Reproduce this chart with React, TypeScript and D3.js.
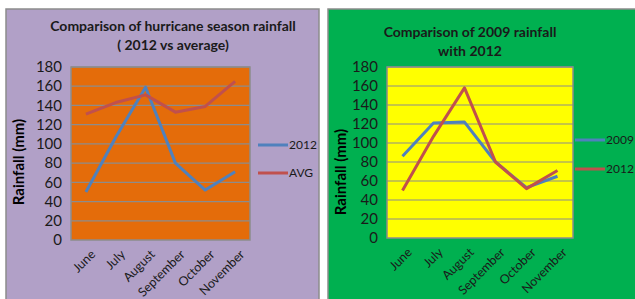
import React, { useEffect, useRef } from 'react';
import * as d3 from 'd3';

const months = ['June', 'July', 'August', 'September', 'October', 'November'];
// left chart: 2012 vs average
const rain2012 = [50, 107, 159, 80, 52, 71];
const rainAvg = [131, 143, 151, 133, 139, 165];
// right chart: 2009 vs 2012
const rain2009 = [86, 121, 122, 80, 53, 65];
const rain2012b = [50, 107, 158, 80, 52, 71];
const yTicks = [0, 20, 40, 60, 80, 100, 120, 140, 160, 180];

const FONT = 'Lato, "Open Sans", sans-serif';

const drawPanel = (svg, cfg) => {
  const g = svg.append('g');

  // panel background
  g.append('rect')
    .attr('x', cfg.px).attr('y', cfg.py)
    .attr('width', cfg.pw).attr('height', cfg.ph)
    .attr('fill', cfg.bg)
    .attr('stroke', '#8c8c8c')
    .attr('stroke-width', 1.5);

  const x = d3.scaleBand().domain(months).range([cfg.x0, cfg.x1]);
  const y = d3.scaleLinear().domain([0, 180]).range([cfg.y1, cfg.y0]);

  // plot area
  g.append('rect')
    .attr('x', cfg.x0).attr('y', cfg.y0)
    .attr('width', cfg.x1 - cfg.x0).attr('height', cfg.y1 - cfg.y0)
    .attr('fill', cfg.plotBg)
    .attr('stroke', '#8c8c8c')
    .attr('stroke-width', 1.5);

  // gridlines
  g.selectAll('.grid')
    .data(yTicks.slice(1))
    .enter()
    .append('line')
    .attr('x1', cfg.x0).attr('x2', cfg.x1)
    .attr('y1', d => y(d)).attr('y2', d => y(d))
    .attr('stroke', '#8c8c8c')
    .attr('stroke-width', 1.2);

  // y tick labels
  g.selectAll('.ytick')
    .data(yTicks)
    .enter()
    .append('text')
    .attr('x', cfg.x0 - 9)
    .attr('y', d => y(d))
    .attr('dy', '0.35em')
    .attr('text-anchor', 'end')
    .style('font-family', FONT)
    .style('font-size', '15px')
    .style('fill', '#1a1a1a')
    .text(d => d);

  // x labels
  g.selectAll('.xtick')
    .data(months)
    .enter()
    .append('text')
    .attr('transform', d => `translate(${x(d) + x.bandwidth() / 2 + 4},${cfg.y1 + 9}) rotate(-45)`)
    .attr('text-anchor', 'end')
    .attr('dy', '0.7em')
    .style('font-family', FONT)
    .style('font-size', '12.5px')
    .style('fill', '#1a1a1a')
    .text(d => d);

  // y axis title
  g.append('text')
    .attr('transform', `translate(${cfg.px + 13},${cfg.titleY}) rotate(-90)`)
    .attr('text-anchor', 'middle')
    .attr('dy', '0.35em')
    .style('font-family', FONT)
    .style('font-size', '15px')
    .style('font-weight', 'bold')
    .style('fill', '#000')
    .text('Rainfall (mm)');

  // chart title
  cfg.title.forEach((t, i) => {
    g.append('text')
      .attr('x', cfg.titleX)
      .attr('y', cfg.titleTop + i * 19)
      .attr('text-anchor', 'middle')
      .attr('dy', '0.35em')
      .style('font-family', FONT)
      .style('font-size', '14px')
      .style('font-weight', 'bold')
      .style('fill', '#1a1a1a')
      .text(t);
  });

  const line = d3.line()
    .x((d, i) => x(months[i]) + x.bandwidth() / 2)
    .y(d => y(d));

  cfg.series.forEach(s => {
    g.append('path')
      .datum(s.values)
      .attr('d', line)
      .attr('fill', 'none')
      .attr('stroke', s.color)
      .attr('stroke-width', 3)
      .attr('stroke-linejoin', 'round');
  });

  // legend
  cfg.series.forEach((s, i) => {
    const ly = cfg.legendY + i * cfg.legendGap;
    g.append('line')
      .attr('x1', cfg.legendX).attr('x2', cfg.legendX + 30)
      .attr('y1', ly).attr('y2', ly)
      .attr('stroke', s.color)
      .attr('stroke-width', 3);
    g.append('text')
      .attr('x', cfg.legendX + 31)
      .attr('y', ly)
      .attr('dy', '0.35em')
      .style('font-family', FONT)
      .style('font-size', '12px')
      .style('fill', '#1a1a1a')
      .text(s.name);
  });
};

const App = () => {
  const chartRef = useRef(null);

  useEffect(() => {
    const svg = d3.select(chartRef.current);
    svg.selectAll('*').remove();

    svg.append('rect').attr('width', 635).attr('height', 299).attr('fill', '#fff');

    drawPanel(svg, {
      px: 6, py: 9, pw: 313, ph: 300,
      bg: '#b1a0c7', plotBg: '#e46c0a',
      x0: 71, x1: 250, y0: 67, y1: 240,
      title: ['Comparison  of hurricane season rainfall', '( 2012 vs average)'],
      titleX: 173, titleTop: 26,
      titleY: 162,
      legendX: 258, legendY: 145, legendGap: 28,
      series: [
        { name: '2012', values: rain2012, color: '#4f81bd' },
        { name: 'AVG', values: rainAvg, color: '#c0504d' },
      ],
    });

    drawPanel(svg, {
      px: 328, py: 9, pw: 312, ph: 300,
      bg: '#00b050', plotBg: '#ffff00',
      x0: 387, x1: 573, y0: 67, y1: 238,
      title: ['Comparison  of 2009 rainfall', 'with 2012'],
      titleX: 470, titleTop: 32,
      titleY: 172,
      legendX: 575, legendY: 140, legendGap: 29,
      series: [
        { name: '2009', values: rain2009, color: '#4f81bd' },
        { name: '2012', values: rain2012b, color: '#c0504d' },
      ],
    });
  }, []);

  return (
    <div>
      <style>{`body { margin: 0; } svg { display: block; }`}</style>
      <svg ref={chartRef} width={635} height={299}></svg>
    </div>
  );
};

export default App;
